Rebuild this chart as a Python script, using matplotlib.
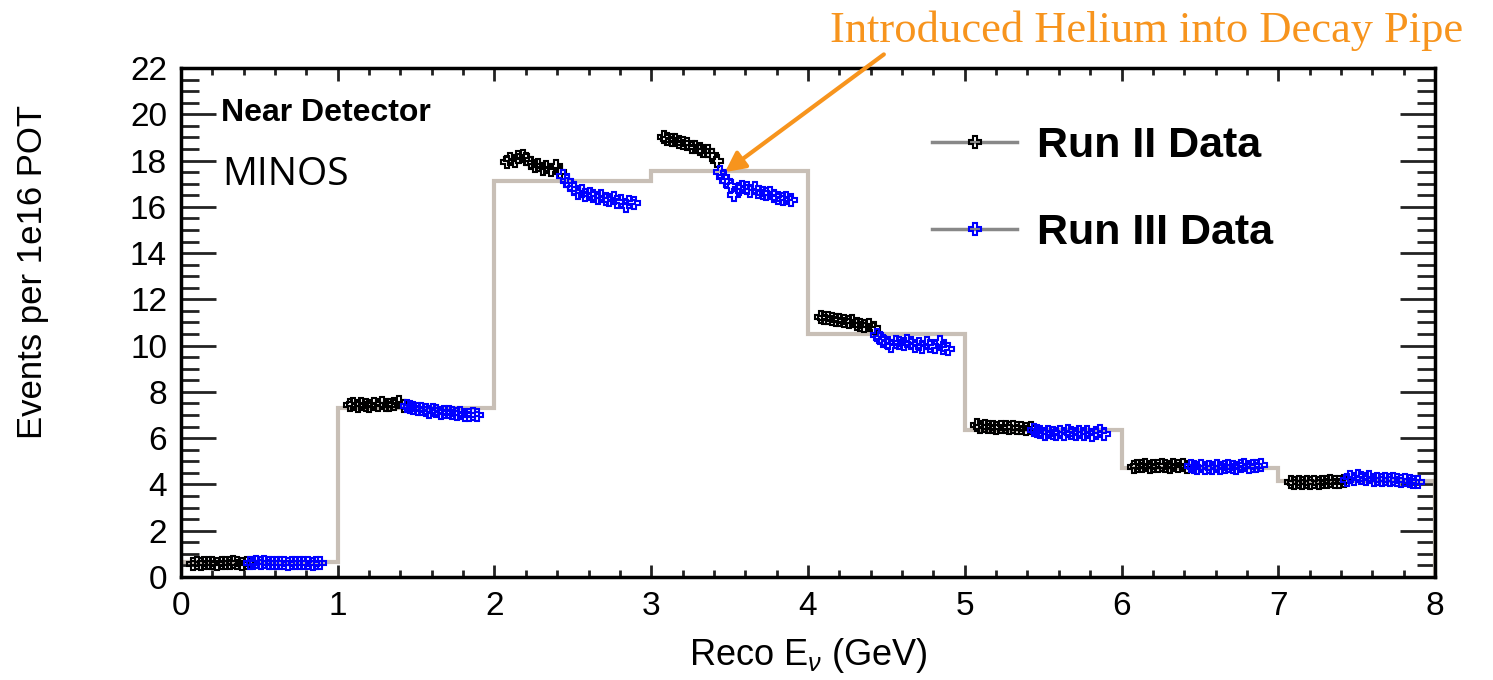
import matplotlib
matplotlib.use("Agg")
import matplotlib.pyplot as plt
from matplotlib.lines import Line2D
from matplotlib.ticker import MultipleLocator

plt.rcParams['font.family'] = ['Liberation Sans', 'DejaVu Sans']
plt.rcParams['mathtext.fontset'] = 'custom'
plt.rcParams['mathtext.rm'] = 'Liberation Sans'
plt.rcParams['mathtext.it'] = 'Liberation Sans:italic'

# MC / nominal histogram
bin_edges = [0, 1, 2, 3, 4, 5, 6, 7, 8]
hist_vals = [0.65, 7.3, 17.1, 17.55, 10.5, 6.35, 4.7, 4.15]

# position of each data point inside its energy bin (time ordered)
run2_offsets = [0.08, 0.10, 0.13, 0.15, 0.18, 0.20, 0.23, 0.26, 0.28, 0.31, 0.33, 0.36, 0.39, 0.42]
run3_offsets = [0.44, 0.46, 0.48, 0.51, 0.53, 0.56, 0.58, 0.61, 0.63, 0.66,
                0.68, 0.71, 0.73, 0.76, 0.78, 0.81, 0.84, 0.86, 0.89]

run2_bin0 = [0.58, 0.60, 0.57, 0.61, 0.59, 0.60, 0.58, 0.62, 0.60, 0.59, 0.63, 0.61, 0.58, 0.60]
run2_bin1 = [7.42, 7.46, 7.40, 7.48, 7.44, 7.41, 7.47, 7.43, 7.50, 7.45, 7.42, 7.49, 7.58, 7.40]
run2_bin2 = [17.95, 18.05, 18.0, 18.15, 18.2, 18.05, 17.9, 17.75, 17.8, 17.65, 17.7, 17.6, 17.75, 17.5]
run2_bin3 = [19.0, 18.95, 18.9, 18.9, 18.8, 18.75, 18.7, 18.6, 18.6, 18.5, 18.4, 18.4, 18.25, 18.0]
run2_bin4 = [11.25, 11.2, 11.2, 11.15, 11.1, 11.1, 11.05, 11.0, 11.05, 10.95, 10.9, 10.85, 10.9, 10.75]
run2_bin5 = [6.55, 6.5, 6.52, 6.48, 6.5, 6.45, 6.5, 6.47, 6.45, 6.5, 6.42, 6.45, 6.4, 6.42]
run2_bin6 = [4.75, 4.8, 4.78, 4.82, 4.76, 4.8, 4.78, 4.83, 4.8, 4.77, 4.85, 4.8, 4.82, 4.75]
run2_bin7 = [4.12, 4.08, 4.1, 4.05, 4.1, 4.08, 4.12, 4.06, 4.1, 4.1, 4.14, 4.1, 4.12, 4.15]

run3_bin0 = [0.62, 0.60, 0.63, 0.61, 0.64, 0.60, 0.62, 0.59, 0.61, 0.60,
             0.58, 0.62, 0.60, 0.61, 0.59, 0.62, 0.58, 0.60, 0.61]
run3_bin1 = [7.40, 7.35, 7.30, 7.25, 7.28, 7.20, 7.15, 7.22, 7.18, 7.10,
             7.15, 7.12, 7.08, 7.05, 7.10, 7.02, 6.98, 7.05, 7.0]
run3_bin2 = [17.35, 17.1, 16.95, 16.8, 16.6, 16.7, 16.5, 16.55, 16.45, 16.4,
             16.45, 16.35, 16.3, 16.4, 16.2, 16.25, 16.05, 16.2, 16.15]
run3_bin3 = [17.5, 17.3, 17.1, 16.9, 16.5, 16.75, 16.85, 16.8, 16.7, 16.8,
             16.65, 16.6, 16.55, 16.6, 16.45, 16.4, 16.35, 16.4, 16.3]
run3_bin4 = [10.45, 10.35, 10.2, 10.1, 10.0, 10.15, 10.1, 10.05, 10.2, 10.1,
             10.0, 10.05, 9.95, 10.1, 10.0, 9.95, 10.15, 9.9, 9.85]
run3_bin5 = [6.35, 6.3, 6.25, 6.2, 6.28, 6.22, 6.18, 6.25, 6.2, 6.3,
             6.22, 6.18, 6.25, 6.2, 6.28, 6.15, 6.22, 6.3, 6.18]
run3_bin6 = [4.8, 4.75, 4.72, 4.78, 4.7, 4.76, 4.73, 4.78, 4.72, 4.75,
             4.8, 4.74, 4.7, 4.78, 4.82, 4.76, 4.8, 4.78, 4.82]
run3_bin7 = [4.2, 4.3, 4.25, 4.35, 4.28, 4.22, 4.3, 4.2, 4.25, 4.18,
             4.22, 4.2, 4.25, 4.18, 4.15, 4.2, 4.15, 4.12, 4.1]

run2_bins = [run2_bin0, run2_bin1, run2_bin2, run2_bin3, run2_bin4, run2_bin5, run2_bin6, run2_bin7]
run3_bins = [run3_bin0, run3_bin1, run3_bin2, run3_bin3, run3_bin4, run3_bin5, run3_bin6, run3_bin7]

hist_color = '#c8bfb6'
orange = '#f7941d'

fig = plt.figure(figsize=(14.93, 6.8), dpi=100)
ax = fig.add_axes([0.1212, 0.1515, 0.84, 0.7485])

ax.stairs(hist_vals, bin_edges, color=hist_color, lw=3, zorder=2)

mk = dict(marker='P', markersize=9, markerfacecolor='none', mew=1.5, linestyle='none', zorder=3)
for i in range(len(hist_vals)):
    ax.plot([bin_edges[i] + o for o in run2_offsets], run2_bins[i], markeredgecolor='black', **mk)
    ax.plot([bin_edges[i] + o for o in run3_offsets], run3_bins[i], markeredgecolor='blue', **mk)

ax.set_xlim(0, 8)
ax.set_ylim(0, 22)
ax.xaxis.set_major_locator(MultipleLocator(1))
ax.xaxis.set_minor_locator(MultipleLocator(0.2))
ax.yaxis.set_major_locator(MultipleLocator(2))
ax.yaxis.set_minor_locator(MultipleLocator(0.5))
ax.tick_params(which='both', direction='in', top=True, right=True, width=2, colors='#222222',
               labelsize=24, labelcolor='black')
ax.tick_params(axis='x', which='major', length=9, pad=10)
ax.tick_params(axis='x', which='minor', length=5)
ax.tick_params(axis='y', which='major', length=25, pad=10)
ax.tick_params(axis='y', which='minor', length=13)
for s in ax.spines.values():
    s.set_linewidth(2.5)

ax.set_ylabel('Events per 1e16 POT', fontsize=25)
ax.yaxis.set_label_coords(-0.105, 0.6)
ax.set_xlabel(r'Reco E$_{\nu}$ (GeV)', fontsize=26, labelpad=10)

ax.text(0.032, 0.912, 'Near Detector', transform=ax.transAxes, fontsize=23,
        fontweight='bold', va='center', ha='left')
ax.text(0.033, 0.79, 'MINOS', transform=ax.transAxes, fontsize=28,
        family='Open Sans', va='center', ha='left')

handles = [
    Line2D([], [], color='#888888', lw=2.5, marker='P', markersize=8,
           markerfacecolor='none', markeredgecolor='black', mew=1.5),
    Line2D([], [], color='#888888', lw=2.5, marker='P', markersize=8,
           markerfacecolor='none', markeredgecolor='blue', mew=1.5),
]
fig.legend(handles, ['Run II Data', 'Run III Data'], loc='upper left',
           bbox_to_anchor=(0.6243, 0.815), frameon=False, borderpad=0, borderaxespad=0,
           handlelength=1.98, handletextpad=0.46, labelspacing=1.1,
           prop={'size': 31, 'weight': 'bold'})

ax.annotate('', xy=(3.47, 17.5), xycoords='data',
            xytext=(0.592, 0.92), textcoords='figure fraction',
            arrowprops=dict(arrowstyle='-|>', color=orange, lw=3, mutation_scale=30,
                            shrinkA=0, shrinkB=0))
fig.text(0.556, 0.955, 'Introduced Helium into Decay Pipe', color=orange,
         family='Liberation Serif', fontsize=32, va='center', ha='left')

fig.savefig('out.png', dpi=100)
